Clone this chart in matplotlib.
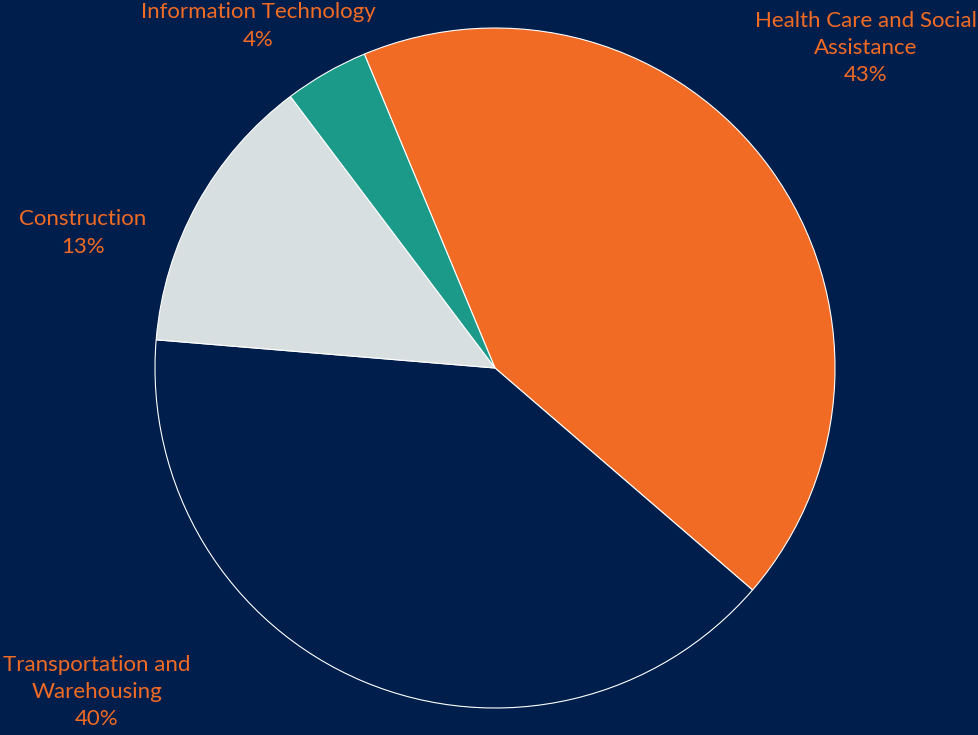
import matplotlib
matplotlib.use("Agg")
import matplotlib.pyplot as plt

# data
sectors = ["Health Care and Social\nAssistance", "Transportation and\nWarehousing",
           "Construction", "Information Technology"]
shares = [42.6, 40.0, 13.4, 4.0]
colors = ["#F26B25", "#001E4B", "#D8DFE0", "#1B9A8A"]

# label anchor points (pixels from top-left)
label_pos = [(866, 48), (97, 692), (83, 233), (258, 26)]

bg = "#001E4B"
W, H = 979, 735

fig = plt.figure(figsize=(W / 100, H / 100), dpi=100, facecolor=bg)
ax = fig.add_axes([0, 0, 1, 1])
ax.set_facecolor(bg)

ax.pie(shares, colors=colors, startangle=112.6, counterclock=False,
       center=(495, H - 368), radius=340, frame=True,
       wedgeprops=dict(edgecolor="white", linewidth=0.8))
ax.set_xlim(0, W)
ax.set_ylim(0, H)
ax.set_aspect("equal")
ax.axis("off")

for name, val, (px, py) in zip(sectors, shares, label_pos):
    ax.text(px, H - py, "%s\n%.0f%%" % (name, val), ha="center", va="center",
            color="#F26B25", fontsize=16, family="Lato", linespacing=1.45)

fig.savefig("out.png", dpi=100, facecolor=bg)
